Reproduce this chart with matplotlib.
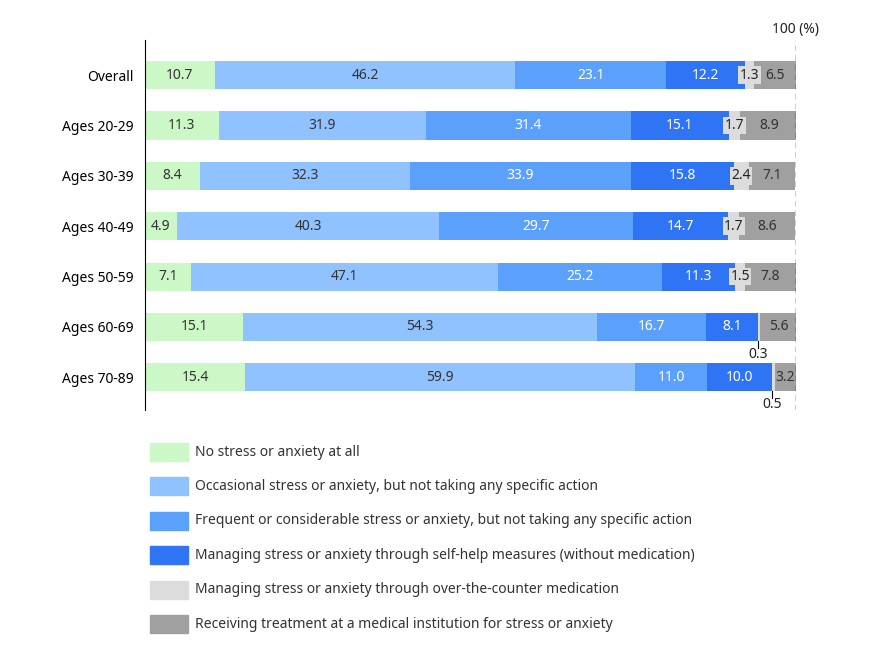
import matplotlib.pyplot as plt
import numpy as np

plt.rcParams['font.family'] = ['Noto Sans', 'DejaVu Sans']

groups = ["Overall", "Ages 20-29", "Ages 30-39", "Ages 40-49", "Ages 50-59", "Ages 60-69", "Ages 70-89"]
no_stress = [10.7, 11.3, 8.4, 4.9, 7.1, 15.1, 15.4]
occasional = [46.2, 31.9, 32.3, 40.3, 47.1, 54.3, 59.9]
frequent = [23.1, 31.4, 33.9, 29.7, 25.2, 16.7, 11.0]
self_help = [12.2, 15.1, 15.8, 14.7, 11.3, 8.1, 10.0]
otc = [1.3, 1.7, 2.4, 1.7, 1.5, 0.3, 0.5]
medical = [6.5, 8.9, 7.1, 8.6, 7.8, 5.6, 3.2]

series = [no_stress, occasional, frequent, self_help, otc, medical]
labels = [
    "No stress or anxiety at all",
    "Occasional stress or anxiety, but not taking any specific action",
    "Frequent or considerable stress or anxiety, but not taking any specific action",
    "Managing stress or anxiety through self-help measures (without medication)",
    "Managing stress or anxiety through over-the-counter medication",
    "Receiving treatment at a medical institution for stress or anxiety",
]
colors = ["#ccf7c6", "#90c2ff", "#5ba0fb", "#2e74f5", "#dcdcdc", "#a0a0a0"]
text_colors = ["#333333", "#333333", "white", "white", "#222222", "#333333"]

fig = plt.figure(figsize=(8.85, 6.55), dpi=100)
ax = fig.add_axes([145 / 885, 1 - 410 / 655, 651 / 885, 370 / 655])
y = np.arange(len(groups))
left = np.zeros(len(groups))
for k, (vals, c, tc) in enumerate(zip(series, colors, text_colors)):
    vals = np.array(vals)
    ax.barh(y, vals, left=left, color=c, height=0.56)
    for i, v in enumerate(vals):
        cx = left[i] + v / 2
        if k == 4:
            if v < 1:
                ax.plot([left[i], left[i]], [i + 0.28, i + 0.42], color="black", lw=0.8)
                ax.text(left[i], i + 0.55, f"{v:.1f}", ha="center", va="center", fontsize=10, color="#222222")
            else:
                ax.text(cx, i, f"{v:.1f}", ha="center", va="center", fontsize=10, color=tc,
                        bbox=dict(boxstyle="square,pad=0.1", fc="#dcdcdc", ec="none"))
        else:
            ax.text(cx, i, f"{v:.1f}", ha="center", va="center", fontsize=10, color=tc)
    left += vals

ax.set_xlim(0, 100)
ax.set_ylim(len(groups) - 0.35, -0.7)
ax.axvline(100, color="black", ls=(0, (4, 3)), lw=1)
ax.text(100, -0.75, "100 (%)", ha="center", va="bottom", fontsize=10, color="#222222")
ax.set_yticks(y)
ax.set_yticklabels(groups, fontsize=10)
ax.tick_params(axis="y", length=0, pad=8)
ax.set_xticks([])
for s in ["top", "right", "bottom"]:
    ax.spines[s].set_visible(False)
ax.spines["left"].set_color("black")

for k, (lab, c) in enumerate(zip(labels, colors)):
    yy = 1 - (452 + k * 34.4) / 655
    fig.patches.append(plt.Rectangle((150 / 885, yy - 9 / 655), 38 / 885, 18 / 655,
                                     transform=fig.transFigure, color=c))
    fig.text(195 / 885, yy, lab, va="center", fontsize=10, color="#333333")

fig.savefig("out.png", dpi=100)
